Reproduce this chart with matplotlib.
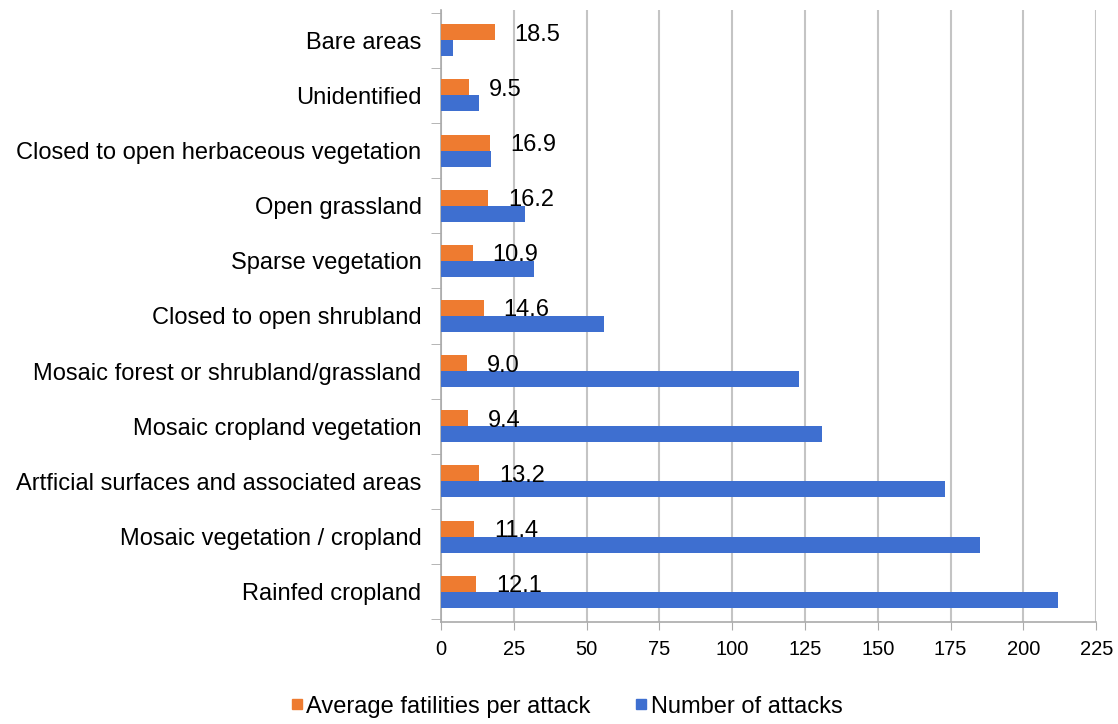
import numpy as np
import matplotlib.pyplot as plt
from matplotlib.lines import Line2D

# categories listed bottom to top
categories = [
    "Rainfed cropland",
    "Mosaic vegetation / cropland",
    "Artficial surfaces and associated areas",
    "Mosaic cropland vegetation",
    "Mosaic forest or shrubland/grassland",
    "Closed to open shrubland",
    "Sparse vegetation",
    "Open grassland",
    "Closed to open herbaceous vegetation",
    "Unidentified",
    "Bare areas",
]
avg_fatalities = [12.1, 11.4, 13.2, 9.4, 9.0, 14.6, 10.9, 16.2, 16.9, 9.5, 18.5]
n_attacks = [212, 185, 173, 131, 123, 56, 32, 29, 17, 13, 4]
xticks = list(range(0, 226, 25))

orange = "#EE7B30"
blue = "#3E6FD0"

plt.rcParams["font.family"] = ["Liberation Sans", "DejaVu Sans"]

fig = plt.figure(figsize=(11.18, 7.24), dpi=100)
ax = fig.add_axes([0.3945, 0.1409, 0.586, 0.8453])

y = np.arange(len(categories))
h = 0.29
ax.barh(y + h / 2, avg_fatalities, height=h, color=orange, zorder=3)
ax.barh(y - h / 2, n_attacks, height=h, color=blue, zorder=3)

for yi, v in zip(y, avg_fatalities):
    ax.text(v + 6.8, yi + 0.1, f"{v:.1f}", va="center", ha="left",
            fontsize=17, color="black", zorder=4)

ax.set_xlim(0, 225)
ax.set_ylim(-0.55, len(categories) - 0.45)
ax.set_xticks(xticks)
ax.set_xticklabels([str(t) for t in xticks], fontsize=14.5)
ax.set_yticks(y)
ax.set_yticklabels(categories, fontsize=17)
ax.tick_params(axis="y", length=0, pad=14)
ax.tick_params(axis="x", length=6, color="#AAAAAA", pad=7)
ax.set_yticks(np.arange(-0.5, len(categories), 1), minor=True)
ax.tick_params(axis="y", which="minor", length=7, color="#AAAAAA")

ax.grid(axis="x", color="#C4C4C4", linewidth=1.5, zorder=0)
for side in ["top", "right"]:
    ax.spines[side].set_visible(False)
ax.spines["left"].set_color("#AAAAAA")
ax.spines["bottom"].set_color("#AAAAAA")
ax.spines["left"].set_linewidth(1.2)
ax.spines["bottom"].set_linewidth(1.2)

handles = [
    Line2D([], [], marker="s", linestyle="none", color=orange, markersize=7),
    Line2D([], [], marker="s", linestyle="none", color=blue, markersize=7),
]
fig.legend(handles, ["Average fatilities per attack", "Number of attacks"],
           loc="center", bbox_to_anchor=(0.507, 0.024), ncol=2, frameon=False,
           fontsize=17, handlelength=0.5, handletextpad=0.15, columnspacing=1.9)

fig.savefig("out.png", dpi=100)
